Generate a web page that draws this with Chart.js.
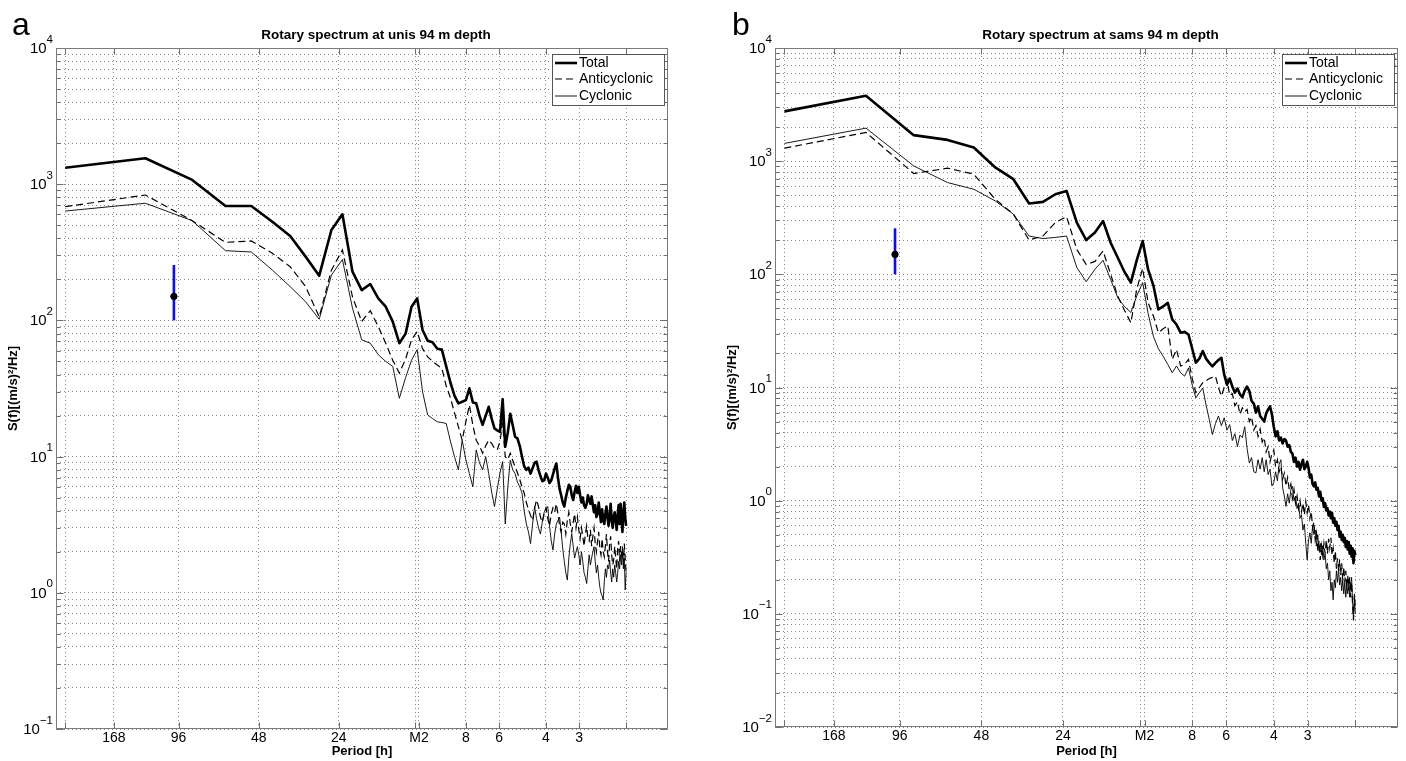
<!DOCTYPE html>
<html><head><meta charset="utf-8">
<script src="https://cdn.jsdelivr.net/npm/chart.js@4.4.0/dist/chart.umd.min.js"></script>
<style>
html,body{margin:0;padding:0;background:#fff;width:1406px;height:761px;overflow:hidden;}
.panel{position:absolute;top:0;width:703px;height:761px;}
canvas{display:block;}
</style></head><body>
<div class="panel" style="left:0"><canvas id="cA" width="703" height="761"></canvas></div>
<div class="panel" style="left:703px"><canvas id="cB" width="703" height="761"></canvas></div>
<script>
// ---------- DATA ----------
const recordHours = 256;                       // spectral resolution 1/256 cph
const harmonicCount = 128;                     // harmonics 1..128 (Nyquist 0.5 cph)
const periodTickHours  = [256, 168, 96, 48, 24, 12.42, 12, 8, 6, 4, 3, 2];
const periodTickLabels = ['', '168', '96', '48', '24', '', 'M2', '8', '6', '4', '3', ''];

const unisTotal = [1320,1550,1075,692,692,530,417,294,213,461,
 601,228,167,185,145,126,98,68,80,126,
 145,85,71,69,62,61,46,35,28,24.6,
 25.3,26,31.7,25,24.6,20,17.1,20,23.2,19,
 16.1,15.6,15.2,26.4,11.8,15,20.6,17,14,13.6,
 12,10,8.5,8,8.3,7.5,8.2,9,9.2,8,
 7.2,6.6,6.7,7.5,7,6.4,6.7,7.4,8.2,8.9,
 7,5.8,5.2,4.6,4.3,5,5.6,6.2,6,5.2,
 4.8,5.5,6.1,5.4,6,5.2,4.6,5,4.4,4.2,
 4.5,5.2,4.8,4.5,5.1,4.4,3.9,4.4,3.6,3.8,
 4.6,3.9,3.3,4.1,3.5,3.2,3.8,4.3,3.6,3.1,
 3.7,4.5,3.4,3.0,3.6,3.9,3.4,2.9,3.7,4.4,
 3.2,4.5,3.5,2.8,3.9,4.6,3.6,3.1];
const unisAnti = [684,833,540,374,383,311,248,177,106,234,
 329,149,98,118,90,68,51,41,52,72,
 83,62,54,50,47,44.5,33,27,21,16.6,
 13.2,18,23.9,17,13.2,12,10.6,12,13.2,12.5,
 11.5,11.2,13,17.5,10,9.5,10.6,9.4,8.4,7.6,
 6.8,6,5.4,4.6,4.1,3.7,3.4,4.2,4.8,4.3,
 3.6,3.3,3.8,4.2,3.5,3.1,3.8,4.2,3.9,4.5,
 3.8,3.1,2.8,3.3,3.2,2.7,3.4,3.9,3.2,2.8,
 3.3,3.8,3.0,3.6,2.9,2.5,3.0,2.6,2.2,2.7,
 3.1,2.5,2.4,2.9,2.2,2.6,3.0,2.3,2.0,2.4,
 2.8,2.1,1.9,2.5,2.0,1.84,2.2,2.7,2.0,1.7,
 2.3,2.6,1.9,1.6,1.74,2.2,1.8,1.5,2.1,2.4,
 1.7,2.2,1.9,2.06,1.6,2.3,1.8,1.39];
const unisCyc = [635,725,540,325,318,234,177,137,102,215,
 280,123,72,68,56,50,46,26.8,38,51,
 61,30,20.2,19,18,17.8,17.5,13,10,8,
 13.2,9.5,7.5,6.0,11.2,9,8,10,7.5,5.5,
 4.3,5.8,7.6,9.2,3.2,6,9.4,8,7.5,6.5,
 6,5.4,4,3.2,2.8,2.3,3.2,4.3,3.5,3.0,
 2.7,3.3,3.9,4.1,4.3,3.1,2.4,2.06,2.7,3.2,
 3.4,3.6,2.8,2.1,1.7,1.4,1.24,1.8,2.3,2.7,
 2.2,1.8,2.0,2.18,1.9,1.6,2.0,1.7,1.4,1.3,
 1.17,1.5,1.9,1.6,1.8,2.0,2.18,1.7,1.4,1.6,
 1.3,1.1,1.0,0.95,0.885,1.2,1.5,1.3,1.6,1.5,
 1.74,1.4,1.2,1.5,1.3,1.6,1.4,1.2,1.39,1.7,
 1.5,1.9,1.6,2.18,1.5,1.8,1.05,1.4];

const samsTotal = [2754,3786,1698,1542,1321,880,693,423,437,510,
 546,287,201,234,296,190,140,105,84.5,135,
 197,110,80,49,52,56,40,36,30.5,31,
 29.4,22,16.6,18,21,18,16.5,15.4,16.5,17.5,
 18.3,13,10.6,12,10.2,9.0,9.8,8.7,8.2,9.4,
 10.2,9.3,7.6,7.2,6.0,6.8,5.6,5.3,5.0,5.9,
 6.4,6.8,5.8,4.5,3.7,4.1,3.4,3.6,3.2,3.5,
 3.4,3.0,3.1,2.7,2.6,2.2,2.4,2.0,2.2,1.88,
 2.1,2.3,1.9,2.0,2.2,1.95,1.6,1.7,1.4,1.34,
 1.45,1.25,1.3,1.09,1.2,1.0,1.05,0.88,0.95,0.82,
 0.86,0.74,0.8,0.7,0.78,0.64,0.7,0.6,0.65,0.55,
 0.6,0.48,0.53,0.45,0.5,0.43,0.47,0.39,0.44,0.37,
 0.43,0.34,0.4,0.32,0.38,0.28,0.36,0.33];
const samsAnti = [1303,1795,778,867,767,461,340,201,218,287,
 324,166,122,130,161,100,64,48,37.4,75,
 113,56,43,30.5,33,35,17.7,21.7,15.5,16,
 17.7,12,9.0,10,11,11.5,12,12.3,12.6,10,
 8.4,10,11.8,8.5,8.8,6.9,7.5,5.8,6.6,6.1,
 6.4,5.0,5.5,4.2,4.6,3.7,4.3,3.3,3.6,2.7,
 3.0,2.2,2.6,2.8,2.0,2.3,1.8,2.0,1.55,1.75,
 1.35,1.6,1.25,1.4,1.05,1.25,0.95,1.1,0.85,1.0,
 0.8,0.95,0.75,0.98,0.78,0.92,0.7,0.8,0.58,0.65,
 0.45,0.52,0.36,0.44,0.30,0.4,0.33,0.42,0.34,0.45,
 0.34,0.46,0.38,0.47,0.33,0.38,0.28,0.36,0.25,0.31,
 0.24,0.3,0.22,0.28,0.2,0.26,0.19,0.24,0.17,0.22,
 0.16,0.21,0.14,0.19,0.12,0.088,0.15,0.11];
const samsCyc = [1435,1959,908,647,565,445,340,218,207,212,
 218,115,86,111,133,90,62,52,46,65,
 84.5,45,28.4,22,18.9,16,13.5,15.5,13.5,12.6,
 14.9,10.5,8.1,9,9.9,7,5.2,3.84,4.8,5.6,
 4.6,5.4,4.2,4.7,3.4,3.9,3.0,3.8,3.6,4.5,
 2.9,2.15,2.4,1.8,1.76,2.3,1.9,2.4,1.8,2.3,
 1.7,1.9,1.35,1.44,1.8,1.5,2.1,2.3,1.3,1.1,
 0.89,1.15,0.95,1.25,1.34,1.0,1.1,0.85,0.95,0.7,
 0.75,0.55,0.62,0.42,0.30,0.45,0.52,0.42,0.6,0.5,
 0.55,0.4,0.5,0.36,0.42,0.33,0.4,0.3,0.34,0.25,
 0.28,0.2,0.24,0.16,0.19,0.133,0.2,0.17,0.24,0.19,
 0.25,0.18,0.21,0.16,0.2,0.15,0.19,0.14,0.18,0.15,
 0.2,0.14,0.18,0.21,0.13,0.088,0.14,0.1];

// confidence interval bar
const errorBarFreq = 0.01;
const errorBarLow = 100, errorBarMid = 150, errorBarHigh = 255;

const seriesNames = ['Total', 'Anticyclonic', 'Cyclonic'];

// ---------- CHART ----------
const FONT = '"Liberation Sans", Arial, Helvetica, sans-serif';
const freqs = [];
for (let k = 1; k <= harmonicCount; k++) freqs.push(k / recordHours);
const pts = arr => arr.map((v, i) => ({x: freqs[i], y: v}));
const isPow10 = v => Math.abs(Math.log10(v) - Math.round(Math.log10(v))) < 1e-6;

const decorPlugin = {
  id: 'decor',
  afterDraw(chart) {
    const d = chart.options.plugins.decor;
    const {ctx, chartArea: ca} = chart;
    const xs = chart.scales.x, ys = chart.scales.y;
    ctx.save();
    ctx.setLineDash([]);
    const L = Math.round(ca.left) + 0.5, R = Math.round(ca.right) - 0.5;
    const T = Math.round(ca.top) + 0.5, B = Math.round(ca.bottom) - 0.5;
    // inner tick marks
    ctx.strokeStyle = '#6e6e6e'; ctx.lineWidth = 1;
    ctx.beginPath();
    xs.ticks.forEach(t => {
      const px = Math.round(xs.getPixelForValue(t.value)) + 0.5;
      ctx.moveTo(px, B); ctx.lineTo(px, B - 6);
      ctx.moveTo(px, T); ctx.lineTo(px, T + 6);
    });
    ys.ticks.forEach(t => {
      const py = Math.round(ys.getPixelForValue(t.value)) + 0.5;
      const len = isPow10(t.value) ? 7 : 4;
      ctx.moveTo(L, py); ctx.lineTo(L + len, py);
      ctx.moveTo(R, py); ctx.lineTo(R - len, py);
    });
    ctx.stroke();
    // box
    ctx.strokeStyle = '#7a7a7a';
    ctx.strokeRect(L, T, R - L, B - T);
    // y tick labels with superscript exponents
    ctx.fillStyle = '#000';
    ctx.textBaseline = 'alphabetic';
    ctx.textAlign = 'left';
    ys.ticks.forEach(t => {
      if (!isPow10(t.value)) return;
      const p = Math.round(Math.log10(t.value));
      const exp = p < 0 ? '\u2212' + (-p) : String(p);
      const py = ys.getPixelForValue(t.value);
      ctx.font = '11.5px ' + FONT;
      const wE = ctx.measureText(exp).width;
      ctx.font = '15px ' + FONT;
      const wB = ctx.measureText('10').width;
      const xe = ca.left - 3 - wE;
      ctx.fillText('10', xe - wB, py + 5);
      ctx.font = '11.5px ' + FONT;
      ctx.fillText(exp, xe, py - 5.5);
    });
    // legend
    const lx0 = ca.right - 116, lx1 = ca.right - 4, ly0 = ca.top + 6, ly1 = ca.top + 57;
    ctx.fillStyle = '#fff';
    ctx.fillRect(lx0, ly0, lx1 - lx0, ly1 - ly0);
    ctx.strokeStyle = '#555';
    ctx.lineWidth = 1;
    ctx.strokeRect(Math.round(lx0) + 0.5, Math.round(ly0) + 0.5, lx1 - lx0, ly1 - ly0);
    const rows = [ca.top + 15, ca.top + 31, ca.top + 48];
    d.legendItems.forEach((it, i) => {
      const ds = chart.data.datasets[it];
      ctx.save();
      ctx.strokeStyle = '#000';
      ctx.lineWidth = ds.borderWidth;
      ctx.setLineDash(ds.borderDash || []);
      ctx.beginPath();
      ctx.moveTo(lx0 + 3, rows[i]); ctx.lineTo(lx0 + 25, rows[i]);
      ctx.stroke();
      ctx.restore();
      ctx.fillStyle = '#000';
      ctx.font = '14px ' + FONT;
      ctx.textBaseline = 'middle';
      ctx.fillText(ds.label, lx0 + 27, rows[i] + 0.5);
    });
    // title and panel letter
    ctx.font = 'bold 13.5px ' + FONT;
    ctx.textAlign = 'center';
    ctx.textBaseline = 'middle';
    ctx.fillText(d.title, (ca.left + ca.right) / 2 + 14, 35);
    ctx.font = '32px ' + FONT;
    ctx.textAlign = 'left';
    ctx.textBaseline = 'alphabetic';
    ctx.fillText(d.letter, d.letterX, 35);
    ctx.restore();
  }
};

function makePanel(id, opt) {
  const datasets = [
    {label: 'CI point', data: [{x: errorBarFreq, y: errorBarMid}], showLine: false,
     pointRadius: 3.2, pointBackgroundColor: '#000', pointBorderColor: '#000', borderColor: '#000', borderWidth: 1},
    {label: 'CI bar', data: [{x: errorBarFreq, y: errorBarLow}, {x: errorBarFreq, y: errorBarHigh}],
     borderColor: '#0a0aff', borderWidth: 2.6, pointRadius: 0, borderCapStyle: 'butt'},
    {label: seriesNames[0], data: pts(opt.total), borderColor: '#000', borderWidth: 2.6, pointRadius: 0, borderJoinStyle: 'round'},
    {label: seriesNames[1], data: pts(opt.anti), borderColor: '#000', borderWidth: 1.2, borderDash: [7, 4], pointRadius: 0},
    {label: seriesNames[2], data: pts(opt.cyc), borderColor: '#000', borderWidth: 0.9, pointRadius: 0}
  ];
  const gridColor = 'rgba(40,40,40,0.55)';
  return new Chart(document.getElementById(id), {
    type: 'line',
    data: {datasets},
    plugins: [decorPlugin],
    options: {
      responsive: false, animation: false, devicePixelRatio: 1,
      layout: {padding: {left: 0, top: 48, right: opt.padRight, bottom: 0}},
      elements: {line: {tension: 0}},
      plugins: {
        legend: {display: false}, tooltip: {enabled: false},
        decor: {title: opt.title, letter: opt.letter, letterX: opt.letterX, legendItems: [2, 3, 4]}
      },
      scales: {
        x: {
          type: 'logarithmic', min: 0.003606, max: 0.7185,
          afterBuildTicks: s => { s.ticks = periodTickHours.map(h => ({value: 1 / h})); },
          afterFit: s => { s.height = opt.xHeight; },
          ticks: {autoSkip: false, maxRotation: 0, minRotation: 0, padding: 1, color: '#000',
                  font: {family: FONT, size: 14},
                  callback: (v, i) => periodTickLabels[i]},
          grid: {color: gridColor, lineWidth: 1, drawTicks: false},
          border: {display: false, dash: [1, 3]},
          title: {display: true, text: 'Period [h]', color: '#000', font: {family: FONT, size: 13, weight: 'bold'},
                  padding: {top: 0, bottom: 2}}
        },
        y: {
          type: 'logarithmic', min: opt.ymin, max: opt.ymax,
          afterBuildTicks: s => {
            const out = [];
            const p0 = Math.round(Math.log10(opt.ymin)), p1 = Math.round(Math.log10(opt.ymax));
            for (let p = p0; p < p1; p++) for (let m = 1; m <= 9; m++) out.push({value: m * Math.pow(10, p)});
            out.push({value: Math.pow(10, p1)});
            s.ticks = out;
          },
          afterFit: s => { s.width = opt.yWidth; },
          ticks: {display: false},
          grid: {color: gridColor, lineWidth: 1, drawTicks: false},
          border: {display: false, dash: [1, 3]},
          title: {display: true, text: 'S(f)[(m/s)\u00B2/Hz]', color: '#000', font: {family: FONT, size: 13, weight: 'bold'},
                  padding: {top: opt.yTitlePad, bottom: 0}}
        }
      }
    }
  });
}

makePanel('cA', {total: unisTotal, anti: unisAnti, cyc: unisCyc, ymin: 0.1, ymax: 10000,
  title: 'Rotary spectrum at unis 94 m depth', letter: 'a', letterX: 12,
  padRight: 35, yWidth: 56, xHeight: 32, yTitlePad: 6});
makePanel('cB', {total: samsTotal, anti: samsAnti, cyc: samsCyc, ymin: 0.01, ymax: 10000,
  title: 'Rotary spectrum at sams 94 m depth', letter: 'b', letterX: 29,
  padRight: 8, yWidth: 72, xHeight: 34, yTitlePad: 22});
</script>
</body></html>
